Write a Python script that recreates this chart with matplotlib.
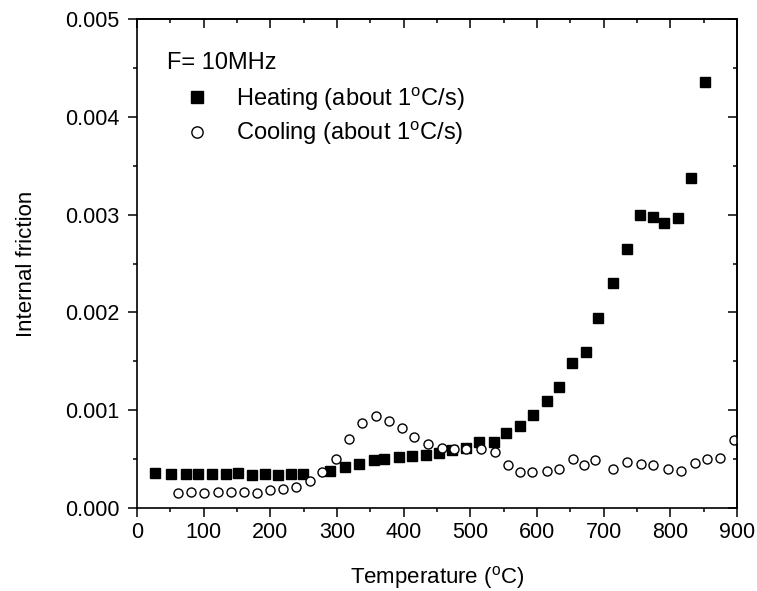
import numpy as np
import matplotlib.pyplot as plt
from matplotlib.ticker import MultipleLocator

plt.rcParams['font.family'] = ['Liberation Sans', 'DejaVu Sans']
plt.rcParams['mathtext.fontset'] = 'custom'
plt.rcParams['mathtext.rm'] = 'Liberation Sans'

# heating run (filled squares)
t_heat = [26.5, 50.5, 73, 91, 112, 134, 151.5, 172, 191.5, 211, 231, 249.5,
          290, 311.5, 333, 355, 371, 392.5, 412.5, 433, 453, 473, 493, 512.5,
          535, 554, 574, 593.5, 615, 633, 653, 673, 691.5, 713.5, 734.5,
          754.5, 773.5, 790.5, 811, 831.5, 852.5]
q_heat = [0.000352, 0.000348, 0.000348, 0.000348, 0.000348, 0.000348, 0.000352,
          0.000338, 0.000341, 0.000334, 0.000341, 0.000345, 0.000375, 0.000413,
          0.000444, 0.000488, 0.000502, 0.000522, 0.000526, 0.000536, 0.000563,
          0.000594, 0.000614, 0.000669, 0.000669, 0.000768, 0.000836, 0.000945,
          0.001089, 0.001232, 0.001481, 0.001590, 0.001945, 0.002302, 0.002648,
          0.002993, 0.002980, 0.002918, 0.002962, 0.003375, 0.004362]

# cooling run (open circles)
t_cool = [61.5, 80.5, 101, 121, 141, 161, 180, 200, 219, 239, 259, 278, 298,
          318, 337.5, 358, 377.5, 397, 415.5, 436.5, 457.5, 475.5, 494, 516.5,
          536.5, 557, 574.5, 592, 615, 632.5, 654, 670, 687.5, 714, 735, 755.5,
          773.5, 796.5, 816.5, 836.5, 855.5, 874.5, 895]
q_cool = [0.000150, 0.000164, 0.000147, 0.000157, 0.000157, 0.000164, 0.000154,
          0.000177, 0.000191, 0.000215, 0.000273, 0.000369, 0.000498, 0.000703,
          0.000867, 0.000939, 0.000891, 0.000812, 0.000724, 0.000648, 0.000608,
          0.000597, 0.000597, 0.000597, 0.000567, 0.000440, 0.000364, 0.000367,
          0.000379, 0.000399, 0.000498, 0.000433, 0.000485, 0.000396, 0.000468,
          0.000444, 0.000440, 0.000392, 0.000379, 0.000454, 0.000495, 0.000505,
          0.000693]

fig = plt.figure(figsize=(7.57, 5.91), dpi=100)
ax = fig.add_axes([137/757, 1-507.7/591, 600/757, 488.3/591])

ax.plot(t_heat, q_heat, 's', color='black', ms=6.6, mec='black',
        label='Heating (about 1$^{\\mathrm{o}}$C/s)')
ax.plot(t_cool, q_cool, 'o', mfc='white', mec='black', mew=1.0, ms=6.5,
        label='Cooling (about 1$^{\\mathrm{o}}$C/s)')

ax.set_xlim(0, 900)
ax.set_ylim(0, 0.005)
ax.xaxis.set_major_locator(MultipleLocator(100))
ax.xaxis.set_minor_locator(MultipleLocator(50))
ax.yaxis.set_major_locator(MultipleLocator(0.001))
ax.yaxis.set_minor_locator(MultipleLocator(0.0005))
ax.yaxis.set_major_formatter(plt.FormatStrFormatter('%.3f'))

for s in ax.spines.values():
    s.set_linewidth(1.2)
ax.tick_params(which='major', direction='out', length=6.5, width=1.1,
               labelsize=15.5)
ax.tick_params(which='minor', direction='out', length=3.1, width=1.1)
ax.tick_params(axis='x', pad=3.6)
ax.tick_params(axis='y', pad=6)

# inward ticks on top and right
top = ax.secondary_xaxis('top')
top.xaxis.set_major_locator(MultipleLocator(100))
top.xaxis.set_minor_locator(MultipleLocator(50))
top.tick_params(which='major', direction='in', length=6.5, width=1.1, labeltop=False)
top.tick_params(which='minor', direction='in', length=3.1, width=1.1)
right = ax.secondary_yaxis('right')
right.yaxis.set_major_locator(MultipleLocator(0.001))
right.yaxis.set_minor_locator(MultipleLocator(0.0005))
right.tick_params(which='major', direction='in', length=6.5, width=1.1, labelright=False)
right.tick_params(which='minor', direction='in', length=3.1, width=1.1)
for a in (top, right):
    for s in a.spines.values():
        s.set_linewidth(1.2)

ax.set_xlabel('Temperature ($^{\\mathrm{o}}$C)', fontsize=16, labelpad=15)
ax.set_ylabel('Internal friction', fontsize=16, labelpad=20)

ax.text(0.0495, 0.9107, 'F= 10MHz', transform=ax.transAxes, fontsize=17,
        ha='left', va='center')
ax.legend(loc='upper left', bbox_to_anchor=(0.0495, 0.866),
          frameon=False, fontsize=17, handlelength=2.54, handletextpad=0.4,
          labelspacing=0.27, borderpad=0.0, borderaxespad=0.0,
          markerscale=1.25)

fig.savefig('out.png', dpi=100)
